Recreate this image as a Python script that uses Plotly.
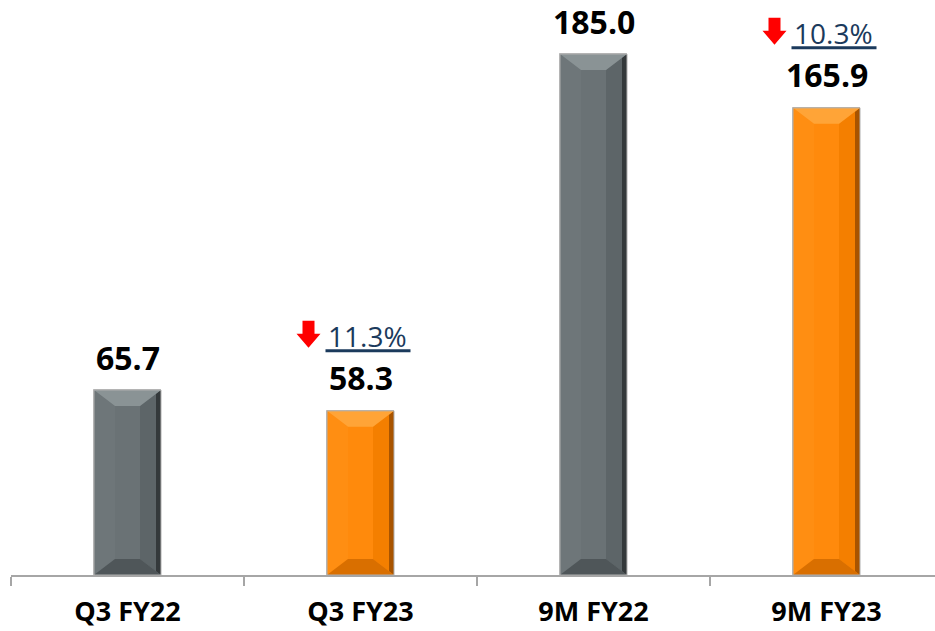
import plotly.graph_objects as go

categories = ["Q3 FY22", "Q3 FY23", "9M FY22", "9M FY23"]
values = [65.7, 58.3, 185.0, 165.9]
value_labels = ["65.7", "58.3", "185.0", "165.9"]
change_labels = ["", "11.3%", "", "10.3%"]
series_kind = ["gray", "orange", "gray", "orange"]

# styling
PAL = {
    "gray": dict(face="#6a7275", top="#8a9395", bottom="#4f5659", right="#5d6568", edge="#34393b", left="#6e7679"),
    "orange": dict(face="#ff8a0c", top="#ffa437", bottom="#d96f00", right="#f47f00", edge="#a85400", left="#ff8e12"),
}

W, H = 935, 631
ML, MB, MT = 11, 56, 0
plot_w = W - ML
plot_h = H - MB - MT
CAT_PX = 233.0
X_RANGE = [-0.5, -0.5 + plot_w / CAT_PX]
Y_MAX = 204.2
PXY = plot_h / Y_MAX          # px per y unit
PXX = CAT_PX                  # px per x unit
BAR_W = 67 / CAT_PX

xs = list(range(len(categories)))

fig = go.Figure()
fig.add_trace(go.Bar(
    x=xs, y=values, width=BAR_W,
    marker=dict(color=[PAL[k]["face"] for k in series_kind],
                line=dict(color="#b8b8b8", width=1)),
    hoverinfo="skip", showlegend=False,
))

shapes = []
annotations = []
dx = 21 / PXX
dy = 16 / PXY
edge = 5 / PXX
for i, v in enumerate(values):
    p = PAL[series_kind[i]]
    x0, x1 = i - BAR_W / 2, i + BAR_W / 2
    def path(pts):
        return "M " + " L ".join(f"{a},{b}" for a, b in pts) + " Z"
    # left bevel
    shapes.append(dict(type="path", xref="x", yref="y", line=dict(width=0), fillcolor=p["left"],
                       path=path([(x0, 0), (x0, v), (x0 + dx, v - dy), (x0 + dx, dy)])))
    # right bevel
    shapes.append(dict(type="path", xref="x", yref="y", line=dict(width=0), fillcolor=p["right"],
                       path=path([(x1, 0), (x1, v), (x1 - dx, v - dy), (x1 - dx, dy)])))
    shapes.append(dict(type="path", xref="x", yref="y", line=dict(width=0), fillcolor=p["edge"],
                       path=path([(x1, 0), (x1, v), (x1 - edge, v - dy * edge / dx), (x1 - edge, dy * edge / dx)])))
    # top bevel
    shapes.append(dict(type="path", xref="x", yref="y", line=dict(width=0), fillcolor=p["top"],
                       path=path([(x0, v), (x1, v), (x1 - dx, v - dy), (x0 + dx, v - dy)])))
    # bottom bevel
    shapes.append(dict(type="path", xref="x", yref="y", line=dict(width=0), fillcolor=p["bottom"],
                       path=path([(x0, 0), (x1, 0), (x1 - dx, dy), (x0 + dx, dy)])))
    # outline
    shapes.append(dict(type="rect", xref="x", yref="y", x0=x0, x1=x1, y0=0, y1=v,
                       line=dict(color="#b0b0b0", width=1), fillcolor="rgba(0,0,0,0)"))

    # value label
    annotations.append(dict(x=i, y=v, xref="x", yref="y", text=f"<b>{value_labels[i]}</b>",
                            showarrow=False, yanchor="middle", yshift=33,
                            font=dict(family="Open Sans", size=32, color="#000000")))

    if change_labels[i]:
        # percent text
        annotations.append(dict(x=i, y=v, xref="x", yref="y", text=change_labels[i],
                                showarrow=False, yanchor="middle", yshift=75, xshift=7,
                                font=dict(family="Open Sans", size=28, color="#1b3a5c")))
        # underline
        uy = v + 60 / PXY
        shapes.append(dict(type="line", xref="x", yref="y", x0=i - 35 / PXX, x1=i + 50 / PXX,
                           y0=uy, y1=uy, line=dict(color="#1b3a5c", width=3)))
        # red down arrow
        ac = i - 52 / PXX
        ytop = v + 90 / PXY
        ymid = v + 77 / PXY
        ybot = v + 63 / PXY
        sw = 6 / PXX
        hw = 12 / PXX
        shapes.append(dict(type="path", xref="x", yref="y", line=dict(width=0), fillcolor="#ff0000",
                           path=path([(ac - sw, ytop), (ac + sw, ytop), (ac + sw, ymid), (ac + hw, ymid),
                                      (ac, ybot), (ac - hw, ymid), (ac - sw, ymid)])))

fig.update_layout(
    width=W, height=H,
    margin=dict(l=ML, r=0, t=MT, b=MB, pad=0),
    plot_bgcolor="white", paper_bgcolor="white",
    shapes=shapes, annotations=annotations,
    xaxis=dict(range=X_RANGE, tickvals=xs, ticktext=[f"<b>{c}</b>" for c in categories],
               ticks="", showgrid=False, zeroline=False,
               showline=True, linecolor="#a6a6a6", linewidth=2,
               tickfont=dict(family="Open Sans", size=27, color="#000000"),
               ticklabelstandoff=12,
               minor=dict(ticks="outside", tick0=-0.5, dtick=1, ticklen=9, tickwidth=2,
                          tickcolor="#a6a6a6", showgrid=False)),
    yaxis=dict(range=[0, Y_MAX], visible=False, showgrid=False, zeroline=False),
    bargap=0,
)

fig.write_html("out.html")
